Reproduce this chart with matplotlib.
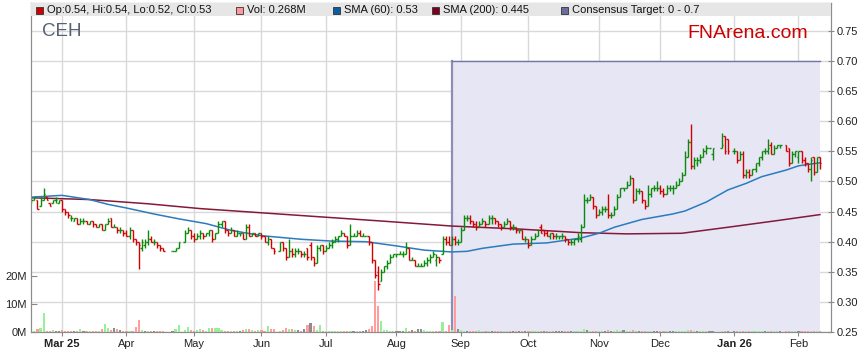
import numpy as np
import pandas as pd
import matplotlib
matplotlib.use('Agg')
from matplotlib import pyplot as plt
from matplotlib.patches import Rectangle

plt.rcParams['font.family'] = ['Liberation Sans', 'DejaVu Sans']

TICKER = 'CEH'
START = '2025-02-17'
END = '2026-02-11'
# ASX closed days inside the window (left as gaps on the weekday axis)
HOLIDAYS = ['2025-04-18', '2025-04-21', '2025-04-25', '2025-06-09',
            '2025-12-25', '2025-12-26', '2026-01-01', '2026-01-26']

# daily prices, one line per month (Feb 25 .. Feb 26)
OPEN = [
    .470, .470, .470, .460, .470, .475, .465, .465, .470, .465,
    .470, .455, .450, .440, .435, .440, .430, .435, .435, .430, .435, .430, .425, .430, .420, .430, .440, .425, .425, .420, .420,
    .415, .410, .420, .405, .400, .390, .395, .400, .405, .400, .400, .395, .390, .385, .385, .390, .400, .415, .420,
    .410, .405, .410, .415, .410, .415, .420, .405, .415, .430, .435, .420, .415, .420, .410, .415, .415, .405, .425, .410, .415, .410,
    .415, .410, .400, .405, .390, .385, .400, .390, .375, .385, .380, .385, .385, .380, .390, .395, .375, .365, .390, .395,
    .385, .390, .395, .400, .405, .410, .415, .410, .395, .410, .410, .415, .410, .410, .410, .400, .370, .350, .335, .350, .360, .365, .375,
    .380, .380, .380, .380, .390, .370, .370, .360, .360, .360, .365, .370, .375, .370, .375, .380, .405, .400, .395, .405, .400,
    .400, .420, .440, .440, .435, .430, .425, .430, .435, .430, .440, .440, .435, .430, .425, .430, .435, .425, .425, .420, .420, .405,
    .405, .395, .405, .410, .425, .420, .415, .410, .415, .410, .410, .410, .410, .405, .400, .400, .405, .405, .425, .470, .470, .475, .460,
    .445, .450, .455, .455, .445, .445, .455, .475, .490, .490, .495, .505, .470, .485, .485, .470, .460, .480, .490, .490,
    .490, .485, .480, .490, .490, .490, .495, .500, .510, .540, .565, .525, .530, .535, .540, .550, .555, .545, .555, .575, .570,
    .550, .550, .535, .545, .510, .515, .510, .520, .530, .540, .550, .550, .560, .545, .555, .560, .560, .555, .530, .545,
    .540, .550, .535, .530, .520, .540, .515, .540,
]
HIGH = [
    .475, .475, .470, .475, .490, .475, .465, .470, .475, .470,
    .470, .455, .450, .445, .440, .440, .440, .440, .435, .435, .435, .430, .430, .430, .430, .440, .440, .430, .425, .425, .420,
    .420, .425, .420, .405, .400, .405, .405, .420, .410, .405, .400, .395, .390, .385, .390, .400, .420, .425, .420,
    .415, .415, .420, .415, .415, .420, .420, .415, .435, .435, .435, .420, .425, .420, .420, .415, .415, .430, .430, .415, .415, .415,
    .415, .410, .410, .405, .390, .400, .400, .390, .405, .390, .390, .390, .385, .385, .390, .400, .375, .395, .395, .395,
    .395, .400, .405, .410, .410, .420, .415, .410, .430, .415, .420, .420, .415, .410, .410, .400, .370, .360, .355, .360, .370, .380, .380,
    .380, .385, .385, .400, .390, .375, .370, .365, .365, .370, .375, .380, .385, .380, .375, .410, .410, .410, .410, .410, .405,
    .425, .445, .445, .445, .435, .435, .435, .440, .435, .445, .445, .440, .435, .430, .435, .440, .435, .430, .425, .420, .420, .410,
    .405, .410, .415, .420, .430, .420, .420, .415, .415, .415, .410, .415, .410, .405, .405, .405, .415, .430, .480, .475, .480, .475, .460,
    .455, .460, .460, .480, .450, .460, .480, .490, .490, .500, .510, .505, .490, .490, .485, .470, .495, .490, .495, .500,
    .495, .490, .495, .495, .495, .500, .505, .515, .550, .570, .595, .540, .540, .545, .555, .560, .555, .555, .580, .575, .570,
    .555, .550, .550, .550, .520, .520, .520, .530, .540, .550, .555, .570, .565, .560, .560, .560, .560, .555, .550, .550,
    .550, .550, .540, .530, .540, .540, .540, .540,
]
LOW = [
    .465, .470, .455, .460, .470, .470, .460, .465, .465, .465,
    .450, .445, .440, .435, .435, .430, .430, .430, .430, .430, .425, .425, .425, .420, .420, .430, .425, .425, .415, .415, .410,
    .410, .405, .400, .395, .355, .385, .390, .395, .400, .395, .390, .385, .385, .385, .385, .390, .400, .415, .405,
    .400, .405, .405, .405, .410, .410, .400, .405, .415, .425, .415, .410, .415, .410, .410, .410, .405, .405, .410, .410, .410, .410,
    .405, .400, .395, .390, .380, .385, .385, .370, .375, .375, .375, .380, .375, .375, .370, .370, .360, .365, .385, .380,
    .385, .390, .390, .400, .400, .410, .410, .390, .395, .410, .410, .410, .410, .410, .395, .365, .340, .320, .335, .350, .355, .365, .375,
    .375, .380, .375, .380, .370, .370, .360, .360, .360, .360, .360, .365, .375, .360, .365, .380, .395, .395, .395, .395, .395,
    .400, .420, .435, .430, .425, .420, .425, .430, .425, .430, .430, .430, .425, .420, .425, .430, .420, .420, .415, .415, .405, .400,
    .390, .395, .405, .410, .415, .410, .410, .405, .405, .405, .405, .405, .400, .395, .395, .395, .400, .400, .425, .465, .470, .455, .440,
    .445, .445, .450, .440, .440, .445, .455, .475, .485, .490, .495, .465, .470, .480, .465, .455, .460, .475, .485, .485,
    .480, .475, .480, .485, .480, .490, .495, .500, .510, .540, .520, .520, .525, .530, .540, .545, .555, .535, .555, .545, .545,
    .545, .530, .535, .505, .505, .505, .510, .515, .525, .535, .545, .545, .545, .545, .555, .555, .550, .525, .530, .540,
    .530, .530, .525, .515, .500, .510, .515, .520,
]
CLOSE = [
    .470, .475, .455, .470, .480, .470, .460, .470, .470, .470,
    .455, .450, .445, .440, .440, .430, .435, .435, .430, .435, .430, .425, .430, .420, .430, .435, .425, .425, .420, .420, .415,
    .410, .420, .405, .400, .395, .400, .400, .405, .400, .400, .395, .390, .385, .385, .390, .400, .415, .420, .410,
    .405, .410, .415, .410, .415, .420, .405, .415, .430, .435, .420, .415, .420, .410, .415, .415, .405, .425, .410, .415, .410, .415,
    .410, .400, .405, .390, .385, .400, .390, .375, .385, .380, .385, .385, .380, .380, .375, .375, .365, .390, .395, .385,
    .390, .395, .400, .405, .410, .415, .410, .395, .410, .410, .415, .410, .410, .410, .400, .370, .345, .330, .350, .360, .365, .375, .380,
    .380, .380, .380, .390, .370, .370, .360, .360, .360, .365, .370, .375, .380, .375, .370, .405, .400, .395, .405, .400, .400,
    .420, .440, .440, .435, .430, .425, .430, .435, .430, .440, .440, .435, .430, .425, .430, .435, .425, .425, .420, .420, .405, .405,
    .395, .405, .410, .420, .415, .415, .410, .415, .410, .410, .410, .410, .405, .400, .400, .405, .410, .425, .470, .470, .475, .460, .445,
    .450, .455, .455, .445, .445, .455, .475, .490, .490, .495, .505, .470, .485, .485, .470, .460, .480, .490, .490, .490,
    .485, .480, .490, .490, .490, .495, .500, .510, .540, .565, .525, .535, .535, .540, .550, .555, .555, .555, .560, .550, .550,
    .550, .535, .545, .510, .515, .510, .520, .530, .540, .550, .550, .555, .545, .555, .560, .560, .550, .530, .545, .550,
    .550, .535, .530, .520, .535, .515, .540, .530,
]
# daily volume, millions of shares
VOLUME = [
    0.4, 0.5, 1.1, 1.3, 6.8, 0.5, 0.4, 0.6, 0.3, 0.5,
    0.8, 0.5, 0.4, 0.3, 0.5, 0.4, 1.2, 0.4, 0.3, 0.5, 0.4, 0.3, 0.4, 1.0, 3.0, 1.5, 0.6, 1.5, 1.0, 0.8, 0.5,
    0.4, 0.5, 0.5, 1.7, 4.4, 0.6, 0.4, 0.5, 0.4, 0.3, 0.4, 0.3, 0.4, 0.5, 1.1, 2.4, 0.8, 1.7, 0.7,
    0.5, 0.8, 0.9, 0.6, 0.5, 1.5, 1.5, 1.5, 1.5, 0.6, 0.4, 0.4, 0.3, 0.4, 0.3, 0.5, 0.6, 1.1, 0.9, 0.6, 0.4, 0.8,
    0.8, 0.5, 2.0, 1.2, 1.0, 0.5, 0.8, 1.5, 0.9, 0.9, 0.7, 0.6, 0.5, 0.9, 2.6, 3.1, 2.0, 0.6, 2.6, 0.5,
    0.4, 0.3, 0.5, 0.4, 0.3, 0.5, 0.3, 0.4, 0.5, 0.4, 0.3, 0.4, 0.5, 0.7, 1.0, 2.0, 18.1, 9.2, 3.8, 0.6, 0.8, 0.4, 0.3,
    0.4, 0.3, 0.5, 1.4, 0.5, 0.8, 0.4, 1.2, 0.9, 0.8, 0.5, 0.4, 0.5, 0.3, 0.4, 3.5, 0.5, 2.5, 0.8, 12.7, 1.0,
    0.6, 0.5, 0.3, 0.4, 0.3, 0.4, 0.8, 0.3, 0.2, 0.4, 0.3, 0.4, 0.3, 0.2, 0.3, 0.4, 0.3, 0.2, 0.3, 0.4, 0.3, 0.2,
    0.2, 0.3, 0.2, 0.5, 0.3, 0.2, 0.3, 0.2, 0.3, 0.2, 0.2, 0.3, 0.2, 0.3, 0.2, 0.3, 0.4, 0.5, 1.0, 0.6, 0.5, 0.4, 0.3,
    0.4, 0.3, 0.5, 0.7, 0.5, 0.4, 0.6, 0.5, 0.6, 0.4, 0.5, 0.6, 0.3, 0.2, 0.3, 0.4, 0.5, 0.3, 0.2, 0.3,
    0.3, 0.2, 0.3, 0.2, 0.3, 0.2, 0.3, 0.4, 0.5, 0.6, 0.8, 0.5, 0.3, 0.4, 0.3, 0.2, 0.3, 0.2, 0.3, 0.2, 0.2,
    0.2, 0.3, 0.2, 0.5, 0.3, 0.2, 0.3, 0.2, 0.3, 0.4, 0.3, 0.5, 0.3, 0.2, 0.3, 0.2, 0.3, 0.4, 0.2, 0.3,
    0.3, 0.2, 0.4, 0.3, 0.5, 0.3, 0.4, 0.268,
]

# moving averages
SMA60_DATES = ['2025-02-17', '2025-03-03', '2025-03-14', '2025-03-24', '2025-04-01',
               '2025-04-14', '2025-04-24', '2025-05-07', '2025-05-19', '2025-06-02',
               '2025-06-19', '2025-07-03', '2025-07-18', '2025-08-01', '2025-08-14',
               '2025-08-27', '2025-09-03', '2025-09-10', '2025-09-24', '2025-10-09',
               '2025-10-24', '2025-11-03', '2025-11-10', '2025-11-21', '2025-12-05',
               '2025-12-11', '2025-12-22', '2025-12-31', '2026-01-08', '2026-01-15',
               '2026-01-27', '2026-02-02', '2026-02-06', '2026-02-11']
SMA60 = [0.474, 0.477, 0.470, 0.462, 0.456,
         0.446, 0.438, 0.430, 0.419, 0.410,
         0.404, 0.401, 0.400, 0.393, 0.386,
         0.383, 0.384, 0.389, 0.396, 0.398,
         0.406, 0.414, 0.424, 0.437, 0.446,
         0.451, 0.466, 0.486, 0.497, 0.508,
         0.519, 0.526, 0.529, 0.531]
SMA200_DATES = ['2025-02-17', '2025-03-14', '2025-04-10', '2025-05-05', '2025-06-02',
                '2025-06-30', '2025-07-28', '2025-08-27', '2025-09-26', '2025-10-24',
                '2025-11-14', '2025-12-10', '2025-12-31', '2026-01-22', '2026-02-11']
SMA200 = [0.473, 0.470, 0.463, 0.455, 0.448,
          0.441, 0.434, 0.426, 0.421, 0.415,
          0.413, 0.414, 0.424, 0.435, 0.445]

TARGET_START = '2025-08-27'
TARGET_LOW = 0.0
TARGET_HIGH = 0.7

W, H = 859, 363


def busdays(dates):
    """Weekday offset from START (holidays stay as gaps)."""
    d = pd.to_datetime(dates).values.astype('datetime64[D]')
    return np.busday_count(np.datetime64(START), d)


def fx(px):
    return px / W


def fy(py):
    return 1 - py / H


days = pd.bdate_range(START, END)
days = days[~days.isin(pd.to_datetime(HOLIDAYS))]
pos = busdays(days)

opn = np.array(OPEN)
hi = np.array(HIGH)
lo = np.array(LOW)
cl = np.array(CLOSE)
vol = np.array(VOLUME)
assert len(opn) == len(hi) == len(lo) == len(cl) == len(vol) == len(days)

fig = plt.figure(figsize=(W / 100, H / 100), dpi=100)
ax = fig.add_axes([fx(31), 31 / H, 800 / W, 329 / H])
vax = ax.twinx()          # volume, drawn on top; twinx moves ax ticks so set sides after
ax.yaxis.tick_right()
vax.yaxis.tick_left()

ax.set_xlim(-0.1, 260.6)
ax.set_ylim(0.25, 0.7965)
ax.set_axisbelow(True)
ax.grid(True, color='#d9d9d9', lw=1.0)

# month ticks on the first trading day of each month
month_starts = pd.date_range('2025-03-01', END, freq='MS')
tick_days = [days[days >= m][0] for m in month_starts]
tick_pos = busdays(tick_days)
ax.set_xticks(tick_pos)
ax.set_xticklabels([d.strftime('%b %y') if (n == 0 or d.month == 1) else d.strftime('%b')
                    for n, d in enumerate(tick_days)])
for n, (lab, d) in enumerate(zip(ax.get_xticklabels(), tick_days)):
    if n == 0 or d.month == 1:
        lab.set_fontweight('bold')

ax.set_yticks(np.arange(0.25, 0.76, 0.05))
ax.yaxis.set_major_formatter('{x:.2f}')
ax.tick_params(axis='y', direction='inout', length=4, pad=2, labelsize=8,
               colors='#888888', labelcolor='#222222')
ax.tick_params(axis='x', direction='out', length=3, pad=2, labelsize=8,
               colors='#888888', labelcolor='#222222')
for s in ax.spines.values():
    s.set_color('#8c8c8c')

# consensus target band
t0 = busdays([TARGET_START])[0]
t1 = pos[-1]
ax.add_patch(Rectangle((t0, TARGET_LOW), t1 - t0, TARGET_HIGH - TARGET_LOW,
                       fc='#e6e6f5', ec='none', zorder=1))
ax.plot([t0, t0], [0.25, TARGET_HIGH], color='#8d8dba', lw=1.6, zorder=2)
ax.plot([t0, t1], [TARGET_HIGH, TARGET_HIGH], color='#7474a8', lw=1.0, zorder=2)

# moving averages
ax.plot(busdays(SMA200_DATES), SMA200, color='#84193a', lw=1.1, zorder=3)
ax.plot(busdays(SMA60_DATES), SMA60, color='#2b7bbd', lw=1.1, zorder=3)

# OHLC bars
colors = np.where(cl >= opn, '#0a8a0a', '#d20000')
tick = 0.5
ax.vlines(pos, lo, hi, colors=colors, lw=1.0, zorder=4)
ax.hlines(opn, pos - tick, pos, colors=colors, lw=1.0, zorder=4)
ax.hlines(cl, pos, pos + tick, colors=colors, lw=1.0, zorder=4)

# volume on the left axis
vax.set_ylim(0, 117.5)
vax.set_yticks([0, 10, 20])
vax.set_yticklabels(['0M', '10M', '20M'])
vax.tick_params(axis='y', direction='in', length=4, pad=3, labelsize=8,
                colors='#888888', labelcolor='#222222')
for s in vax.spines.values():
    s.set_color('#8c8c8c')
prev = np.r_[opn[0], cl[:-1]]
chg = np.round(cl - prev, 4)
vcolors = np.where(chg > 0, '#99ee99', np.where(chg < 0, '#ff9c9c', '#8c8c8c'))
vax.bar(pos, vol, width=0.7, color=vcolors, zorder=2)

# legend strip
vax.add_patch(Rectangle((0, 1 - 13 / 329), 1, 13 / 329, transform=vax.transAxes,
                        fc='#e6e6e6', ec='none', zorder=10))
legend = [
    (36, '#cc0000', 'Op:{:.2f}, Hi:{:.2f}, Lo:{:.2f}, Cl:{:.2f}'.format(opn[-1], hi[-1], lo[-1], cl[-1])),
    (236, '#ff9999', 'Vol: {:.3f}M'.format(vol[-1])),
    (333, '#0b5ea3', 'SMA (60): {:.2f}'.format(SMA60[-1])),
    (432, '#800020', 'SMA (200): {:.3f}'.format(SMA200[-1])),
    (561, '#6c6ca0', 'Consensus Target: {:g} - {:g}'.format(TARGET_LOW, TARGET_HIGH)),
]
for x0, c, txt in legend:
    fig.add_artist(Rectangle((fx(x0), fy(14)), 7 / W, 7 / H, transform=fig.transFigure,
                             fc=c, ec='#333333', lw=0.6, zorder=11))
    fig.text(fx(x0 + 11), fy(10), txt, fontsize=8, color='#111111', va='center', zorder=11)

fig.text(fx(42), fy(32), TICKER, fontsize=13.5, color='#566273', va='center')
fig.text(fx(808), fy(33), 'FNArena.com', fontsize=14, color='#cc0000', va='center', ha='right')

fig.savefig('out.png', dpi=100)
